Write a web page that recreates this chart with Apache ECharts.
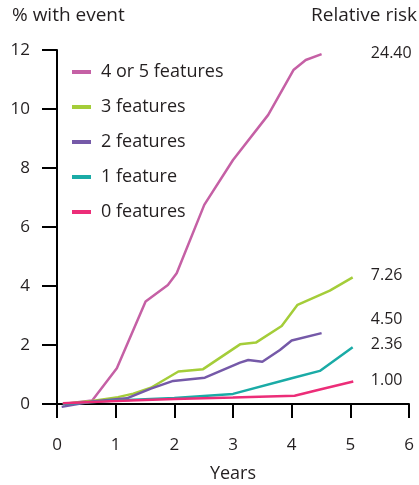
<!DOCTYPE html>
<html lang="en" style="height: 100%">
<head>
  <meta charset="utf-8">
  <title>% with event by features</title>
</head>
<body style="height: 100%; margin: 0">
  <div id="container" style="height: 100%"></div>
  <script type="text/javascript" src="https://fastly.jsdelivr.net/npm/echarts@6.0.0/dist/echarts.min.js"></script>
  <script type="text/javascript">
    // [years, % with event]
    const fourOrFive = [[0.1, 0], [0.6, 0.12], [1.02, 1.21], [1.51, 3.47], [1.89, 4.03], [2.04, 4.43],
      [2.51, 6.75], [3.0, 8.27], [3.6, 9.8], [4.03, 11.32], [4.24, 11.66], [4.51, 11.86]];
    const three = [[0.1, 0], [0.6, 0.1], [1.04, 0.23], [1.3, 0.35], [1.6, 0.55], [2.07, 1.1],
      [2.49, 1.18], [3.12, 2.02], [3.39, 2.08], [3.83, 2.64], [4.1, 3.36], [4.65, 3.84], [5.04, 4.29]];
    const two = [[0.08, -0.1], [0.6, 0.08], [1.19, 0.19], [1.6, 0.52], [1.98, 0.78], [2.52, 0.89],
      [3.12, 1.4], [3.26, 1.49], [3.5, 1.43], [3.8, 1.83], [4.0, 2.15], [4.51, 2.4]];
    const one = [[0.1, 0], [1.0, 0.12], [2.0, 0.2], [2.5, 0.27], [3.0, 0.34], [4.0, 0.87],
      [4.48, 1.12], [5.04, 1.92]];
    const zero = [[0.1, 0.02], [1.0, 0.1], [2.0, 0.17], [3.0, 0.22], [4.05, 0.28], [4.5, 0.5],
      [5.05, 0.76]];

    const seriesNames = ['4 or 5 features', '3 features', '2 features', '1 feature', '0 features'];
    const seriesColors = ['#c560a5', '#a4cd39', '#7559a8', '#1aaba6', '#ec2d78'];

    const riskLabels = ['24.40', '7.26', '4.50', '2.36', '1.00'];
    const riskY = [11.9, 4.34, 2.85, 2.03, 0.78];
    const riskX = 5.35;

    const yTicks = [0, 2, 4, 6, 8, 10, 12];

    var dom = document.getElementById('container');
    var myChart = echarts.init(dom, null, { renderer: 'canvas' });

    const textColor = '#231f20';
    const font = 'Open Sans';

    const lines = [fourOrFive, three, two, one, zero].map((d, i) => ({
      name: seriesNames[i],
      type: 'line',
      data: d,
      showSymbol: false,
      symbol: 'none',
      clip: false,
      lineStyle: { width: 2.5, color: seriesColors[i] },
      itemStyle: { color: seriesColors[i] }
    }));

    var option = {
      animation: false,
      textStyle: { fontFamily: font },
      title: [
        { text: '% with event', left: 7, top: 1,
          textStyle: { fontSize: 19, fontWeight: 'normal', color: textColor, fontFamily: font } },
        { text: 'Relative risk', right: -3, top: 1,
          textStyle: { fontSize: 19, fontWeight: 'normal', color: textColor, fontFamily: font } }
      ],
      grid: { left: 57, right: 10, top: 50, bottom: 79, outerBoundsMode: 'none' },
      legend: {
        orient: 'vertical',
        left: 67,
        top: 57,
        itemGap: 15,
        itemWidth: 19,
        itemHeight: 4,
        icon: 'rect',
        data: seriesNames,
        textStyle: { fontSize: 18, color: textColor, lineHeight: 20, padding: [0, 0, 0, 5] }
      },
      xAxis: {
        type: 'value',
        min: 0,
        max: 6,
        interval: 1,
        name: 'Years',
        nameLocation: 'middle',
        nameGap: 59,
        nameTextStyle: { fontSize: 18, color: textColor },
        splitLine: { show: false },
        axisLine: { lineStyle: { color: '#000', width: 2 } },
        axisTick: { length: 14, lineStyle: { color: '#000', width: 2 } },
        axisLabel: { margin: 31, fontSize: 17, color: textColor }
      },
      yAxis: {
        type: 'value',
        min: -0.07,
        max: 12,
        splitLine: { show: false },
        axisLine: { show: true, lineStyle: { color: '#000', width: 2 } },
        axisTick: { show: true, length: 15, customValues: yTicks, lineStyle: { color: '#000', width: 2 } },
        axisLabel: { margin: 27, fontSize: 17, color: textColor, customValues: yTicks }
      },
      series: lines.concat([{
        type: 'scatter',
        symbolSize: 0,
        silent: true,
        itemStyle: { opacity: 1 },
        data: riskLabels.map((t, i) => ({ name: t, value: [riskX, riskY[i]] })),
        label: {
          show: true,
          position: 'right',
          distance: 0,
          formatter: '{b}',
          fontSize: 16,
          color: textColor
        }
      }])
    };

    myChart.setOption(option);
    window.addEventListener('resize', myChart.resize);
  </script>
</body>
</html>
